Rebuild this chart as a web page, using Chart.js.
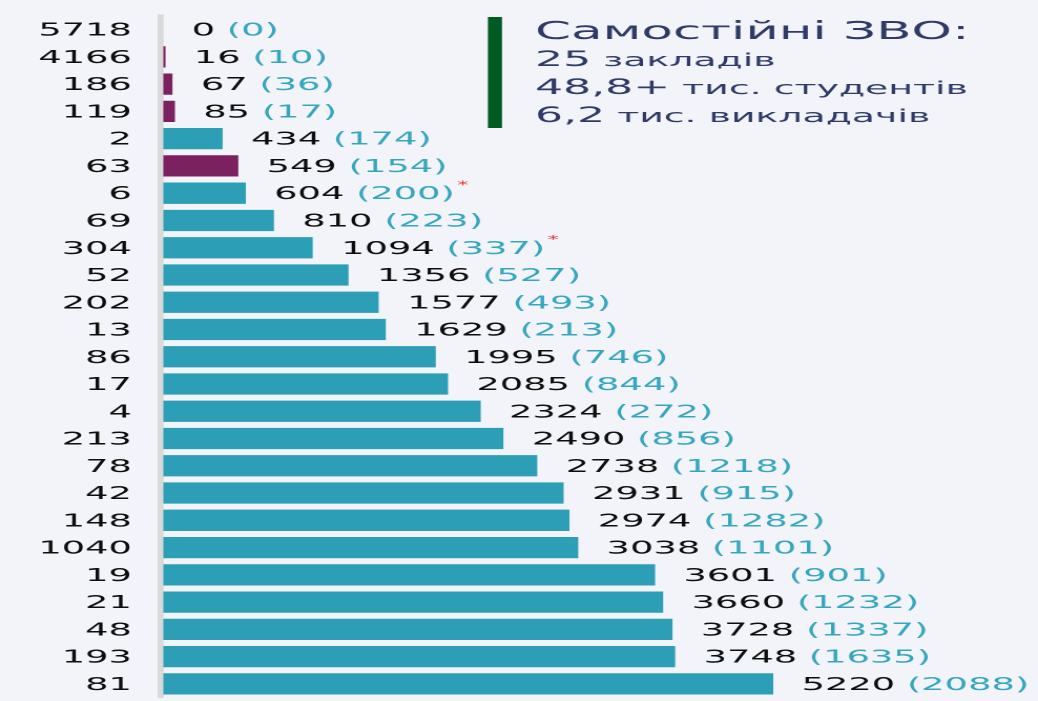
<!DOCTYPE html>
<html>
<head>
<meta charset="utf-8">
<script src="https://cdn.jsdelivr.net/npm/chart.js@4"></script>
<style>
    html, body { margin: 0; padding: 0; background: #f3f4f9; overflow: hidden; }
    #wrap { width: 494px; height: 701px; transform: scaleX(2.1012); transform-origin: 0 0; }
</style>
</head>
<body>
<div id="wrap"><canvas id="chart" width="494" height="701"></canvas></div>
<script>
// numbers on the left of each bar
const categories = ["5718", "4166", "186", "119", "2", "63", "6", "69", "304", "52", "202", "13", "86",
    "17", "4", "213", "78", "42", "148", "1040", "19", "21", "48", "193", "81"];
// students per institution (bar length)
const students = [0, 16, 67, 85, 434, 549, 604, 810, 1094, 1356, 1577, 1629, 1995,
    2085, 2324, 2490, 2738, 2931, 2974, 3038, 3601, 3660, 3728, 3748, 5220];
// teachers, shown in brackets
const teachers = [0, 10, 36, 17, 174, 154, 200, 223, 337, 527, 493, 213, 746,
    844, 272, 856, 1218, 915, 1282, 1101, 901, 1232, 1337, 1635, 2088];
// rows drawn in the second colour
const otherGroup = ["4166", "186", "119", "63"];
// rows with a red asterisk
const starred = ["6", "304"];

const infoTitle = "Самостійні ЗВО:";
const infoLines = [["25", " закладів"], ["48,8+", " тис. студентів"], ["6,2", " тис. викладачів"]];

const teal = "#2c9fb7";
const purple = "#7c2160";
const tealText = "#34a6bd";
const navy = "#2f3b66";

const labelPlugin = {
    id: "barLabels",
    afterDatasetsDraw(chart) {
        const ctx = chart.ctx;
        const meta = chart.getDatasetMeta(0);
        ctx.save();
        ctx.textBaseline = "middle";
        meta.data.forEach((bar, i) => {
            const x = Math.min(bar.x, chart.chartArea.right) + 13.5;
            const y = bar.y + 1.5;
            ctx.font = '17.5px "DejaVu Sans"';
            ctx.fillStyle = "#0d0d0d";
            const a = students[i] + " ";
            ctx.fillText(a, x, y);
            const wa = ctx.measureText(a).width;
            const b = "(" + teachers[i] + ")";
            ctx.fillStyle = tealText;
            ctx.fillText(b, x + wa, y);
            if (starred.includes(categories[i])) {
                const wb = ctx.measureText(b).width;
                ctx.font = '11px "DejaVu Sans"';
                ctx.fillStyle = "#e8312f";
                ctx.fillText("*", x + wa + wb + 1, y - 9);
            }
        });
        ctx.restore();
    },
    afterDraw(chart) {
        const ctx = chart.ctx;
        ctx.save();
        ctx.fillStyle = "#005a24";
        ctx.fillRect(232.2, 17, 6.7, 111);
        ctx.fillStyle = navy;
        ctx.textBaseline = "alphabetic";
        ctx.font = '24.5px "DejaVu Sans"';
        ctx.fillText(infoTitle, 254.6, 39);
        infoLines.forEach((ln, i) => {
            const y = 66 + i * 28;
            ctx.font = '21px "DejaVu Sans"';
            ctx.fillText(ln[0], 254.6, y);
            const w = ctx.measureText(ln[0]).width;
            ctx.font = '18px "DejaVu Sans"';
            ctx.fillText(ln[1], 254.6 + w, y);
        });
        ctx.restore();
    }
};

new Chart(document.getElementById("chart"), {
    type: "bar",
    data: {
        labels: categories,
        datasets: [{
            data: students,
            backgroundColor: categories.map(c => otherGroup.includes(c) ? purple : teal),
            barPercentage: 0.78,
            categoryPercentage: 1,
            clip: 0
        }]
    },
    options: {
        indexAxis: "y",
        responsive: false,
        devicePixelRatio: 2,
        animation: false,
        layout: {padding: {top: 16, bottom: 3.5, right: 126, left: 0}},
        plugins: {legend: {display: false}, tooltip: {enabled: false}},
        scales: {
            x: {display: false, min: -22, max: 4466},
            y: {
                grid: {display: false, drawTicks: false},
                border: {display: true, color: "#d9d9d9", width: 2.9},
                ticks: {color: "#0d0d0d", padding: 13.5, labelOffset: 1.5, font: {family: "DejaVu Sans", size: 17.5}},
                afterFit(scale) {
                    scale.width = 76.3;
                    scale.paddingTop = 0;
                    scale.paddingBottom = 0;
                }
            }
        }
    },
    plugins: [labelPlugin]
});
</script>
</body>
</html>
